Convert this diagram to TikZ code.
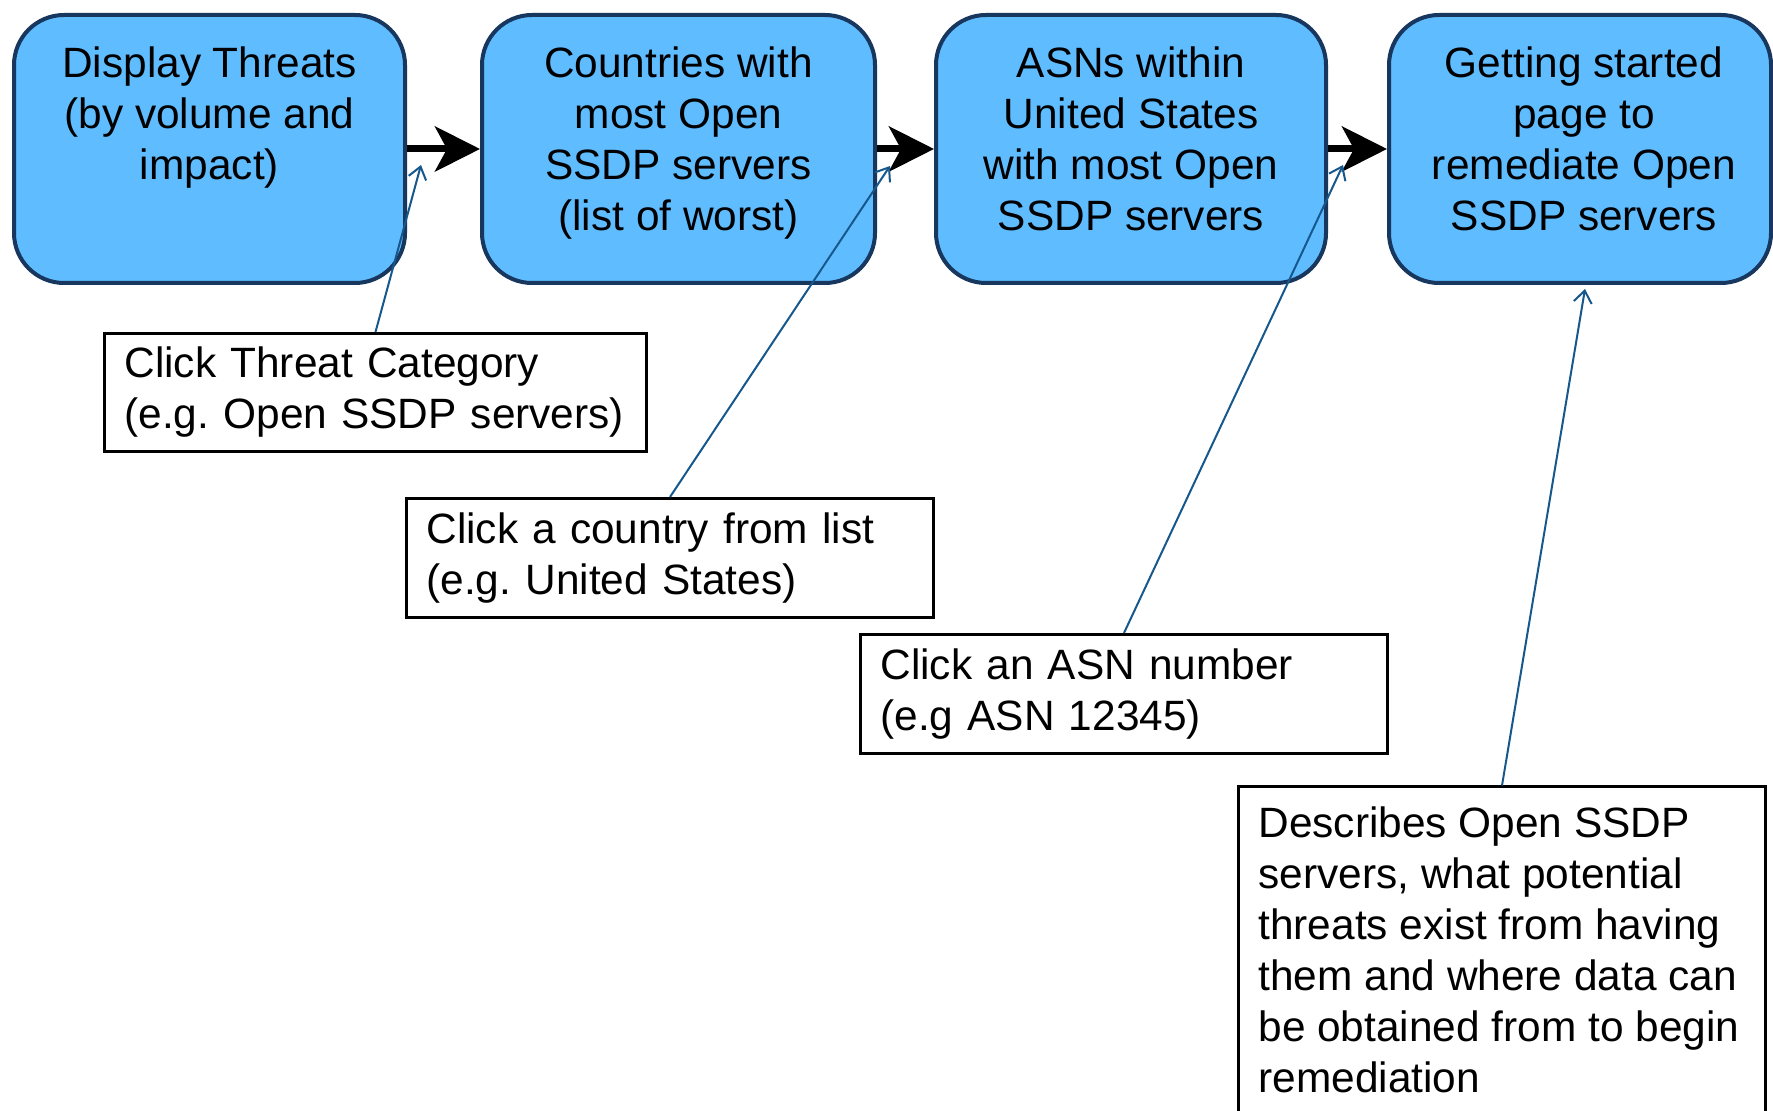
\documentclass[tikz,border=0pt]{standalone}
\usepackage{fontspec}
\setmainfont{Liberation Sans}
\usetikzlibrary{arrows.meta,calc}
\definecolor{boxfill}{RGB}{95,188,255}
\definecolor{boxline}{RGB}{23,55,94}
\definecolor{linkc}{RGB}{22,88,140}
\frenchspacing
\newcommand{\boxtext}[2]{\parbox[c][102pt][t]{#1}{\centering #2}}
\tikzset{
  bigbox/.style={draw=boxline, line width=2pt, fill=boxfill, rounded corners=25pt,
    inner sep=0pt, minimum height=134pt, font=\fontsize{21.2pt}{25.5pt}\selectfont},
  callout/.style={draw=black, line width=1.5pt, fill=white, inner xsep=10pt, inner ysep=0pt,
    align=left, font=\fontsize{21.2pt}{25.5pt}\selectfont},
  flow/.style={line width=3.5pt, -{Stealth[length=22.5pt,width=22.5pt,inset=6pt]}},
  pointer/.style={draw=linkc, line width=1pt, -{Straight Barb[length=6pt,width=9pt]}},
}
\begin{document}
\begin{tikzpicture}[x=0.5pt,y=-0.5pt]
\useasboundingbox (0,0) rectangle (1773,1111);
\clip (0,0) rectangle (1773,1111);
\fill[white] (0,0) rectangle (1773,1111);

\node[bigbox, minimum width=195.5pt] (b1) at (209.5,149)
  {\boxtext{194pt}{Display Threats\\(by volume and\\impact)}};
\node[bigbox, minimum width=196.5pt] (b2) at (678.5,149)
  {\boxtext{194pt}{Countries with\\most Open\\SSDP servers\\(list of worst)}};
\node[bigbox, minimum width=195pt] (b3) at (1131,149)
  {\boxtext{194pt}{ASNs within\\United States\\with most Open\\SSDP servers}};
\node[bigbox, minimum width=191pt] (b4) at (1580,149)
  {\hspace*{4pt}\boxtext{186pt}{Getting started\\page to\\remediate Open\\SSDP servers}};

\draw[flow] (b1.east) -- (b2.west);
\draw[flow] (b2.east) -- (b3.west);
\draw[flow] (b3.east) -- (b4.west);

\node[callout, minimum height=59pt, text width=251pt] (ca) at (375.5,392.5)
  {Click Threat Category\\(e.g. Open SSDP servers)};
\node[callout, minimum height=59.5pt, text width=243.5pt] (cb) at (670,558)
  {Click a country from list\\(e.g. United States)};
\node[callout, minimum height=59.5pt, text width=243.5pt] (cc) at (1124,694)
  {Click an ASN number\\(e.g ASN 12345)};
\node[callout, anchor=north, inner ysep=10pt] (cd) at (1502,785.5)
  {\parbox[c][190pt][t]{243.5pt}{\raggedright Describes Open SSDP\\servers, what potential\\threats exist from having\\them and where data can\\be obtained from to begin\\remediation}};

\coordinate (ta) at (421,165);
\coordinate (tb) at (890,166);
\coordinate (tc) at (1343,165);
\coordinate (td) at (1585,289);

\draw[pointer] (ca.north) -- (ta);
\draw[pointer] (cb.north) -- (tb);
\draw[pointer] (cc.north) -- (tc);
\draw[pointer] (cd.north) -- (td);
\end{tikzpicture}
\end{document}
